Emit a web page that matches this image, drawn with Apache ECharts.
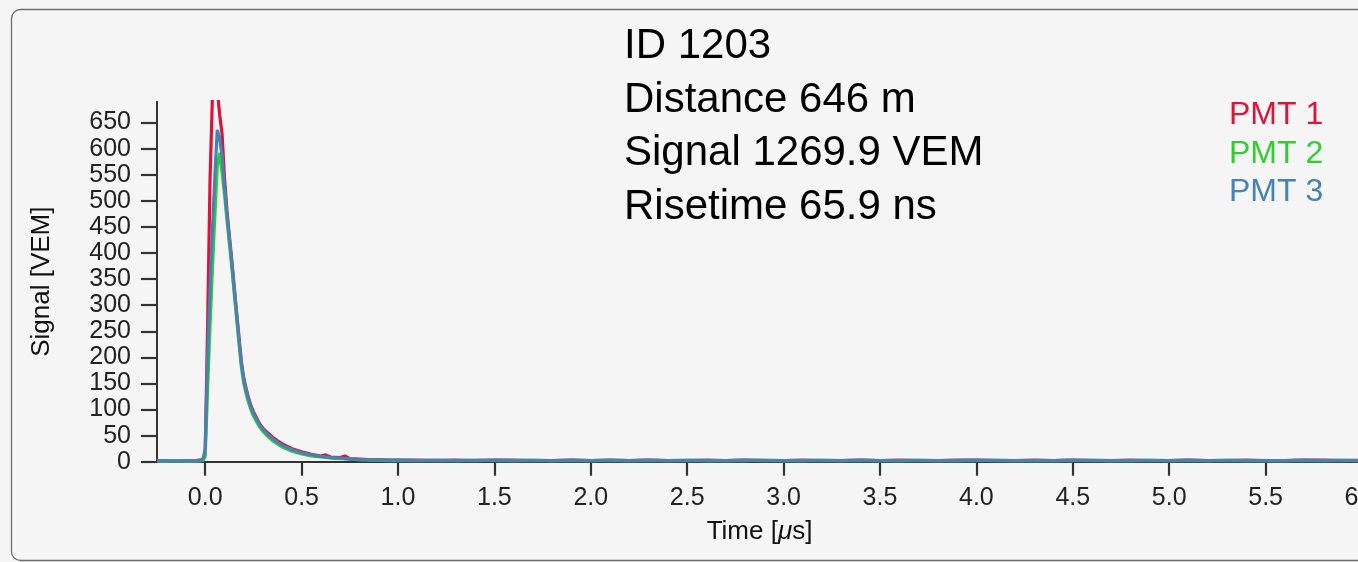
<!DOCTYPE html>
<html>
<head>
<meta charset="utf-8">
<script src="https://cdn.jsdelivr.net/npm/echarts@6/dist/echarts.min.js"></script>
<style>
  html, body { margin: 0; padding: 0; background: #f5f5f5; }
  #chart { width: 1358px; height: 562px; }
</style>
</head>
<body>
<div id="chart"></div>
<script>
// Sample times in microseconds (finer sampling around the pulse)
const times = [
  -0.25, -0.2, -0.15, -0.1, -0.05, -0.0125,
  0, 0.0125, 0.025, 0.0375, 0.05, 0.0625, 0.075, 0.0875, 0.1, 0.1125, 0.125, 0.1375,
  0.15, 0.1625, 0.175, 0.1875, 0.2, 0.2125, 0.225, 0.2375, 0.25, 0.2625, 0.275, 0.2875, 0.3,
  0.325, 0.35, 0.375, 0.4, 0.45, 0.5, 0.55, 0.6, 0.625, 0.65, 0.7, 0.725, 0.75, 0.8, 0.85, 0.9, 0.95, 1.0,
  1.1, 1.2, 1.3, 1.4, 1.5, 1.6, 1.7, 1.8, 1.9, 2.0,
  2.1, 2.2, 2.3, 2.4, 2.5, 2.6, 2.7, 2.8, 2.9, 3.0,
  3.1, 3.2, 3.3, 3.4, 3.5, 3.6, 3.7, 3.8, 3.9, 4.0,
  4.1, 4.2, 4.3, 4.4, 4.5, 4.6, 4.7, 4.8, 4.9, 5.0,
  5.1, 5.2, 5.3, 5.4, 5.5, 5.6, 5.7, 5.8, 5.9, 6.0
];

// Signal in VEM for each photomultiplier
const pmt1 = [
  2, 1, 2, 1, 2, 4,
  15, 260, 540, 700, 730, 715, 665, 628, 545, 482, 434, 388,
  338, 288, 240, 192, 160, 140, 122, 107, 96, 87, 78, 70, 64,
  55, 47, 40, 34, 25, 19, 14, 11, 13, 9, 8, 11, 6, 5, 4, 4, 3, 3,
  3, 2, 3, 2, 3, 3, 2, 2, 3, 2,
  3, 2, 3, 2, 2, 3, 2, 3, 2, 2,
  3, 2, 2, 3, 2, 3, 2, 2, 3, 3,
  2, 2, 3, 2, 3, 2, 2, 3, 2, 2,
  3, 2, 2, 3, 2, 2, 3, 3, 2, 3
];
const pmt2 = [
  1, 1, 2, 1, 1, 2,
  10, 140, 260, 370, 470, 565, 592, 555, 512, 465, 420, 375,
  325, 276, 228, 182, 150, 130, 113, 99, 88, 79, 71, 64, 58,
  48, 40, 34, 28, 20, 15, 11, 9, 8, 7, 6, 6, 5, 4, 3, 3, 2, 2,
  2, 2, 2, 3, 2, 2, 3, 2, 2, 2,
  3, 2, 2, 2, 3, 2, 2, 2, 3, 2,
  2, 3, 2, 2, 2, 2, 3, 2, 2, 2,
  3, 2, 2, 2, 2, 3, 2, 2, 3, 2,
  2, 2, 3, 2, 2, 2, 2, 2, 3, 2
];
const pmt3 = [
  1, 2, 1, 2, 1, 3,
  25, 200, 330, 445, 545, 636, 620, 585, 528, 474, 428, 382,
  332, 283, 234, 188, 156, 136, 119, 104, 93, 84, 76, 68, 62,
  52, 44, 37, 31, 23, 17, 13, 10, 9, 8, 7, 6, 5, 4, 4, 3, 3, 3,
  2, 3, 2, 2, 3, 2, 2, 2, 3, 2,
  2, 2, 3, 2, 2, 2, 2, 3, 2, 2,
  2, 2, 2, 3, 2, 2, 2, 2, 2, 3,
  2, 2, 2, 2, 3, 2, 2, 2, 2, 2,
  3, 2, 2, 2, 2, 2, 3, 2, 2, 2
];

const seriesNames = ['PMT 1', 'PMT 2', 'PMT 3'];
const seriesColors = ['#dc143c', '#32cd32', '#4682b4'];

const xTicks = [0, 0.5, 1.0, 1.5, 2.0, 2.5, 3.0, 3.5, 4.0, 4.5, 5.0, 5.5, 6.0];
const yTicks = [0, 50, 100, 150, 200, 250, 300, 350, 400, 450, 500, 550, 600, 650];

const infoLines = ['ID 1203', 'Distance 646 m', 'Signal 1269.9 VEM', 'Risetime 65.9 ns'];

const FONT = '"Liberation Sans", Arial, Helvetica, sans-serif';

const toPairs = vals => times.map((t, i) => [t, vals[i]]);

const chart = echarts.init(document.getElementById('chart'), null, { renderer: 'canvas' });

chart.setOption({
  backgroundColor: 'transparent',
  animation: false,
  textStyle: { fontFamily: FONT },
  graphic: [{
    type: 'rect',
    z: -10,
    silent: true,
    shape: { x: 11.5, y: 9.5, width: 1400, height: 551, r: 9 },
    style: { fill: '#f5f5f5', stroke: '#6e6e6e', lineWidth: 1.3 }
  }],
  title: {
    text: infoLines.join('\n'),
    left: 624,
    top: 20,
    padding: 0,
    textStyle: {
      fontFamily: FONT,
      fontSize: 42,
      fontWeight: 'normal',
      lineHeight: 53.5,
      color: '#000'
    }
  },
  legend: {
    orient: 'vertical',
    left: 1224,
    top: 96,
    padding: 0,
    itemWidth: 0,
    itemHeight: 0,
    itemGap: 0,
    icon: 'rect',
    textStyle: { fontFamily: FONT, fontSize: 32, lineHeight: 38.5 },
    data: seriesNames.map((n, i) => ({ name: n, textStyle: { color: seriesColors[i] } }))
  },
  grid: {
    left: 157,
    top: 101.7,
    width: 1205,
    height: 360,
    outerBoundsMode: 'none',
    containLabel: false
  },
  xAxis: {
    type: 'value',
    min: -0.25,
    max: 6.0,
    name: 'Time [{i|μ}s]',
    nameLocation: 'middle',
    nameGap: 57,
    nameTextStyle: {
      fontFamily: FONT, fontSize: 26, color: '#111',
      rich: { i: { fontFamily: FONT, fontSize: 26, fontStyle: 'italic', color: '#111' } }
    },
    axisLine: { show: true, onZero: false, lineStyle: { color: '#333', width: 2 } },
    axisTick: { show: true, inside: false, length: 14, customValues: xTicks, lineStyle: { color: '#333', width: 2.2 } },
    axisLabel: {
      customValues: xTicks,
      margin: 24,
      fontSize: 25,
      color: '#222',
      hideOverlap: false,
      formatter: v => v.toFixed(1)
    },
    splitLine: { show: false }
  },
  yAxis: {
    type: 'value',
    min: 0,
    max: 690,
    name: 'Signal [VEM]',
    nameLocation: 'middle',
    nameRotate: 90,
    nameGap: 102,
    nameTextStyle: { fontFamily: FONT, fontSize: 26, color: '#111' },
    axisLine: { show: true, onZero: false, lineStyle: { color: '#333', width: 2 } },
    axisTick: { show: true, inside: false, length: 16, customValues: yTicks, lineStyle: { color: '#333', width: 2.2 } },
    axisLabel: { customValues: yTicks, margin: 26, fontSize: 25, color: '#222' },
    splitLine: { show: false }
  },
  series: [pmt1, pmt2, pmt3].map((vals, i) => ({
    name: seriesNames[i],
    type: 'line',
    data: toPairs(vals),
    showSymbol: false,
    symbol: 'none',
    clip: true,
    lineStyle: { color: seriesColors[i], width: 3.2 },
    itemStyle: { color: seriesColors[i] },
    z: 2 + i
  }))
});
</script>
</body>
</html>
